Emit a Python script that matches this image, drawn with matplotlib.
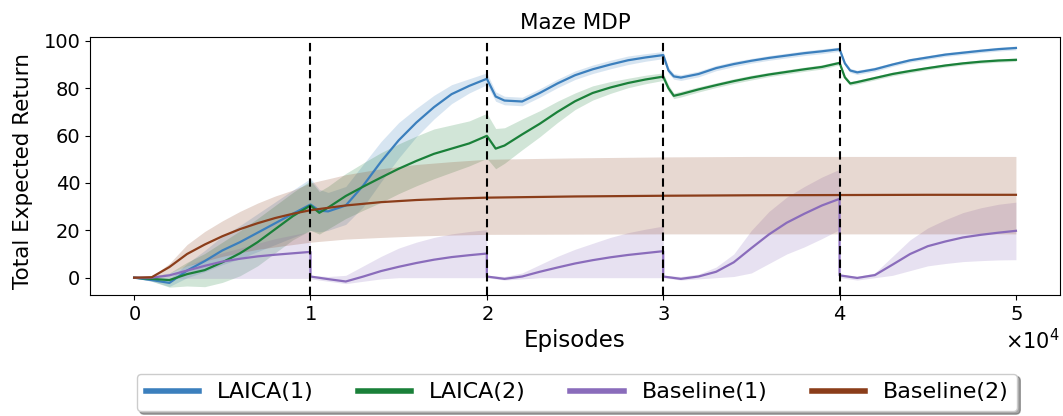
import matplotlib
matplotlib.use("Agg")
import matplotlib.pyplot as plt
import numpy as np

# ── Data ─────────────────────────────────────────────────────────────────────
laica_x = [0, 1000, 2000, 3000, 4000, 5000, 6000, 7000, 8000, 9000, 10000,
           10500, 11000, 12000, 13000, 14000, 15000, 16000, 17000, 18000, 19000,
           20000, 20500, 21000, 22000, 23000, 24000, 25000, 26000, 27000, 28000,
           29000, 30000, 30300, 30600, 31000, 32000, 33000, 34000, 35000, 36000,
           37000, 38000, 39000, 40000, 40300, 40600, 41000, 42000, 43000, 44000,
           45000, 46000, 47000, 48000, 49000, 50000]

laica1_mean = [0, -1, -2.2, 3, 7, 11.5, 15, 19, 23, 27, 30.9,
               28.3, 28, 30.5, 39, 49, 58, 65.5, 72, 77.5, 81,
               84, 76.5, 74.8, 74.4, 78, 82, 85.5, 88, 90, 91.8,
               93, 94, 87.5, 85, 84.5, 86, 88.5, 90.2, 91.6, 92.8,
               93.8, 94.8, 95.6, 96.5, 90.5, 87.5, 86.7, 88, 90, 91.8,
               93, 94.2, 95, 95.8, 96.5, 97]
laica1_err = [0, 0.5, 1.5, 3, 4.5, 6, 7, 8, 9, 10, 11,
              9, 8, 8, 9, 8.5, 7.5, 6, 5, 4, 3,
              2.5, 2, 1.8, 1.8, 1.8, 1.8, 1.8, 1.8, 1.8, 1.8,
              1.6, 1.5, 1.3, 1.2, 1.2, 1.2, 1.1, 1.1, 1.0, 1.0,
              1.0, 1.0, 1.0, 0.9, 0.9, 0.9, 0.9, 0.9, 0.8, 0.8,
              0.8, 0.8, 0.8, 0.8, 0.8, 0.8]

laica2_mean = [0, -0.5, -1, 1.5, 3.2, 6.5, 10.3, 15, 20.5, 26, 30.5,
               27.4, 29.6, 34.5, 38.5, 42.3, 46, 49.3, 52.3, 54.5, 56.7,
               59.9, 54.5, 55.8, 60.5, 65, 70, 74.5, 78, 80.3, 82.2,
               83.7, 84.9, 80, 76.8, 77.5, 79.5, 81.3, 83, 84.5, 85.8,
               86.9, 88, 89, 90.7, 84.6, 82, 82.6, 84.3, 86, 87.3,
               88.5, 89.6, 90.5, 91.2, 91.7, 92]
laica2_err = [0, 1, 3, 5, 7, 8.5, 9.5, 10, 10, 10, 10.5,
              9, 9, 9.5, 10, 10.5, 10.5, 10.5, 10.5, 10, 9.5,
              9.5, 8.5, 7.5, 6.5, 5.5, 4.5, 3.5, 3, 2.5, 2,
              1.8, 1.6, 1.4, 1.2, 1.2, 1.1, 1.0, 1.0, 1.0, 0.9,
              0.9, 0.9, 0.9, 0.8, 0.8, 0.8, 0.8, 0.8, 0.8, 0.8,
              0.7, 0.7, 0.7, 0.7, 0.7, 0.7]

base1_x = [0, 1000, 2000, 3000, 4000, 5000, 6000, 7000, 8000, 9000, 10000,
           10000, 11000, 12000, 13000, 14000, 15000, 16000, 17000, 18000, 19000, 20000,
           20000, 21000, 22000, 23000, 24000, 25000, 26000, 27000, 28000, 29000, 30000,
           30000, 31000, 32000, 33000, 34000, 35000, 36000, 37000, 38000, 39000, 40000,
           40000, 41000, 42000, 43000, 44000, 45000, 46000, 47000, 48000, 49000, 50000]
base1_mean = [0, 0, 1, 3, 5, 6.8, 8, 9, 9.7, 10.3, 10.9,
              0.5, -0.6, -1.6, 0.5, 2.8, 4.6, 6.2, 7.6, 8.7, 9.5, 10.2,
              0.5, -0.5, 0.5, 2.5, 4.3, 6, 7.4, 8.6, 9.6, 10.4, 11.2,
              0.5, -0.5, 0.5, 2.5, 6.5, 12.5, 18.3, 23.2, 27, 30.5, 33.3,
              1, -0.1, 1.1, 5.5, 10, 13.3, 15.3, 17, 18.1, 19, 19.8]
base1_lo = [0, -0.3, -0.3, -0.3, -0.3, -0.3, -0.3, -0.3, -0.3, -0.3, -0.3,
            -0.5, -1.5, -2.5, -1.5, -0.5, 0, 0, 0, 0, 0, 0,
            0, -1, -0.5, 0, 0, 0, 0, 0, 0, 0, 0,
            0, -1, -0.5, 0, 0.5, 2, 6, 10, 13, 16.5, 20.3,
            0, -1, 0, 1, 3, 5, 6, 6.8, 7.2, 7.5, 7.6]
base1_hi = [0, 0.5, 2, 5, 8, 10.5, 12.5, 14.5, 16.5, 18, 19.5,
            1, 0.5, 1, 5, 9, 12.5, 15, 17, 18.5, 19.5, 20.3,
            1, 0.5, 2, 5.5, 9, 12, 14.5, 17, 19, 20.5, 21.8,
            1, 0.5, 1.5, 4.5, 10, 20, 28, 34, 38.5, 42.5, 45.8,
            1.5, 0.5, 2, 9, 16, 21, 24.5, 27.5, 29.5, 31, 31.9]

base2_x = [0, 1000, 2000, 3000, 4000, 5000, 6000, 7000, 8000, 9000, 10000,
           12000, 14000, 16000, 18000, 20000, 25000, 30000, 35000, 40000, 45000, 50000]
base2_mean = [0, 0.2, 4.5, 10, 14, 17.5, 20.5, 23, 25.2, 27, 28.5,
              30.5, 31.9, 32.8, 33.4, 33.8, 34.3, 34.6, 34.8, 34.9, 35.0, 35.0]
base2_lo = [0, 0, 2, 5, 7, 9, 10.5, 12, 13, 14, 15,
            16.3, 17, 17.6, 18, 18.3, 18.4, 18.5, 18.5, 18.5, 18.5, 18.5]
base2_hi = [0, 0.5, 6, 14, 19.5, 24, 28, 31.5, 34.5, 37, 40,
            43.5, 46, 47.8, 49, 50, 50.6, 51, 51.2, 51.2, 51.2, 51.2]

task_switches = [10000, 20000, 30000, 40000]

labels = ["LAICA(1)", "LAICA(2)", "Baseline(1)", "Baseline(2)"]
colors = ["#3b7fbd", "#1a8039", "#8a6cbb", "#8b3d1a"]

# ── Plot ─────────────────────────────────────────────────────────────────────
fig = plt.figure(figsize=(10.63, 4.16), dpi=100)
ax = fig.add_axes([0.0847, 0.2909, 0.9125, 0.6194])

lx = np.array(laica_x)
series = [
    (lx, np.array(laica1_mean), np.array(laica1_mean) - laica1_err,
     np.array(laica1_mean) + laica1_err),
    (lx, np.array(laica2_mean), np.array(laica2_mean) - laica2_err,
     np.array(laica2_mean) + laica2_err),
    (np.array(base1_x), np.array(base1_mean), np.array(base1_lo), np.array(base1_hi)),
    (np.array(base2_x), np.array(base2_mean), np.array(base2_lo), np.array(base2_hi)),
]

handles = []
for (x, m, lo, hi), lab, c in zip(series, labels, colors):
    ax.fill_between(x, lo, hi, color=c, alpha=0.2, linewidth=0)
    h, = ax.plot(x, m, color=c, linewidth=1.6, label=lab)
    handles.append(h)

for xs in task_switches:
    ax.axvline(xs, color="black", linestyle="--", linewidth=1.5, dashes=(4, 2.5))

ax.set_xlim(-2500, 52500)
ax.set_ylim(-7.3, 101.5)
ax.set_xticks([0, 10000, 20000, 30000, 40000, 50000])
ax.set_yticks([0, 20, 40, 60, 80, 100])
ax.ticklabel_format(style="sci", axis="x", scilimits=(0, 0), useMathText=True)
ax.tick_params(labelsize=14)
ax.xaxis.get_offset_text().set_fontsize(15)

ax.set_title("Maze MDP", fontsize=15.5)
ax.set_xlabel("Episodes", fontsize=16.5)
ax.set_ylabel("Total Expected Return", fontsize=15.5)
ax.yaxis.set_label_coords(-0.059, 0.48)

leg = fig.legend(handles=handles, loc="center", bbox_to_anchor=(0.543, 0.0565),
                 ncol=4, fontsize=16, shadow=True, handlelength=2.4,
                 handletextpad=0.8, columnspacing=2.0, framealpha=1)
for line in leg.get_lines():
    line.set_linewidth(4)

fig.savefig("out.png", dpi=100)
